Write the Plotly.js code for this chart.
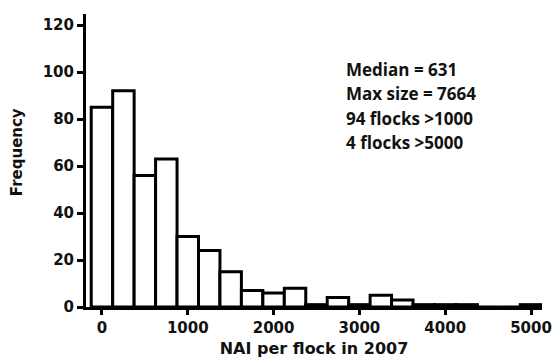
<!DOCTYPE html>
<html>
<head>
<meta charset="utf-8">
<script src="https://cdn.plot.ly/plotly-3.0.1.min.js"></script>
<style>html,body{margin:0;padding:0;background:#fff;}#chart{width:555px;height:358px;}</style>
</head>
<body>
<div id="chart"></div>
<script>
// Histogram bin centers (NAI per flock, bin width 250)
const binCenters = [0, 250, 500, 750, 1000, 1250, 1500, 1750, 2000, 2250, 2500, 2750, 3000, 3250, 3500, 3750, 4000, 4250, 4500, 4750, 5000];
// Frequency per bin
const frequencies = [85, 92, 56, 63, 30, 24, 15, 7, 6, 8, 1, 4, 1, 5, 3, 1, 1, 1, 0, 0, 1];
const binWidth = 250;
const xTicks = [0, 1000, 2000, 3000, 4000, 5000];
const yTicks = [0, 20, 40, 60, 80, 100, 120];
const statLines = ["Median = 631", "Max size = 7664", "94 flocks >1000", "4 flocks >5000"];

const tickFont = {family: "DejaVu Sans", size: 15, color: "#111", weight: "bold"};

const trace = {
  type: "bar",
  x: binCenters,
  y: frequencies,
  width: binCenters.map(() => binWidth),
  marker: {color: "#ffffff", line: {color: "#000", width: 3}},
  hoverinfo: "skip"
};

const linePos = [0.811, 0.727, 0.645, 0.561];
const annotations = statLines.map((t, i) => ({
  text: "<b>" + t + "</b>",
  xref: "paper", yref: "paper",
  x: 0.566, y: linePos[i],
  xanchor: "left", yanchor: "middle",
  showarrow: false,
  font: {family: "Open Sans", size: 17, color: "#111"}
}));
annotations.push({
  text: "<b>Frequency</b>",
  xref: "paper", yref: "paper",
  x: -0.151, y: 0.529,
  xanchor: "center", yanchor: "middle",
  textangle: -90,
  showarrow: false,
  font: {family: "DejaVu Sans", size: 15, color: "#111"}
});

const layout = {
  width: 555, height: 358,
  margin: {l: 86, r: 13, t: 14, b: 51},
  paper_bgcolor: "#fff", plot_bgcolor: "#fff",
  showlegend: false,
  bargap: 0,
  xaxis: {
    range: [-186, 5128],
    tickvals: xTicks,
    ticktext: xTicks.map(String),
    showgrid: false, zeroline: false,
    showline: true, linecolor: "#000", linewidth: 3,
    ticks: "outside", ticklen: 5, tickwidth: 3, tickcolor: "#000",
    tickfont: tickFont,
    title: {text: "NAI per flock in 2007", font: {family: "DejaVu Sans", size: 16, color: "#111", weight: "bold"}, standoff: 8}
  },
  yaxis: {
    range: [0, 124.7],
    tickvals: yTicks,
    ticktext: yTicks.map(String),
    showgrid: false, zeroline: false,
    showline: true, linecolor: "#000", linewidth: 3,
    ticks: "outside", ticklen: 6, tickwidth: 3, tickcolor: "#000",
    tickfont: tickFont
  },
  annotations: annotations
};

Plotly.newPlot("chart", [trace], layout, {displayModeBar: false, staticPlot: true});
</script>
</body>
</html>
